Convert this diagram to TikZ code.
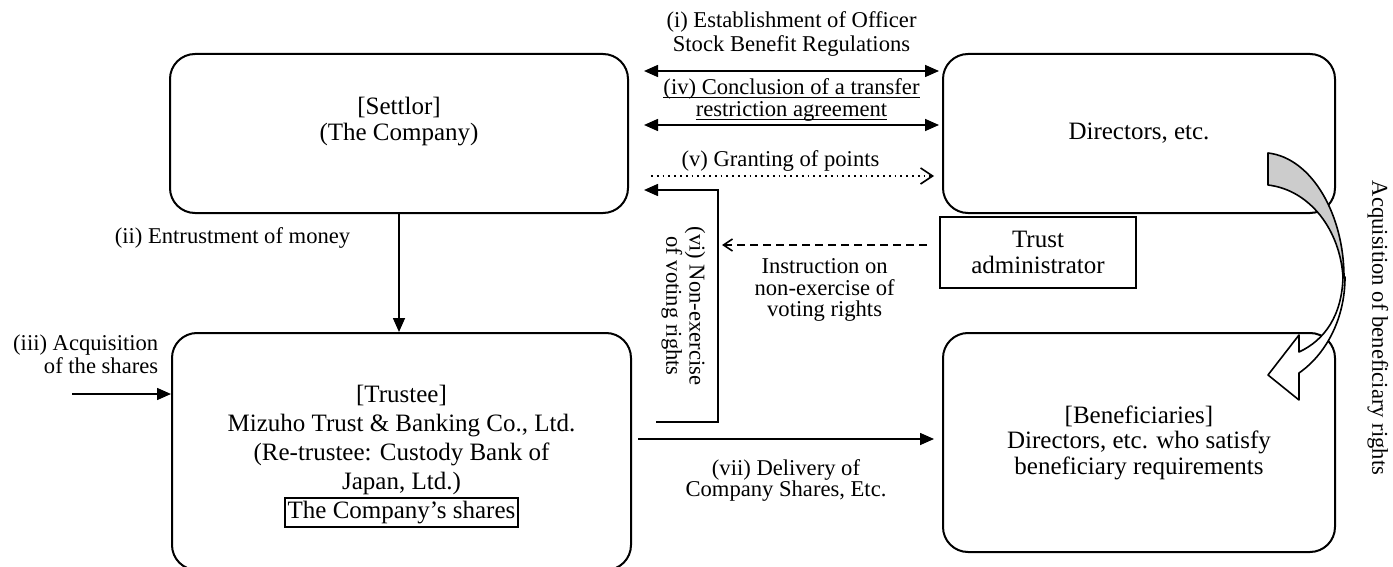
\documentclass[tikz,border=0pt]{standalone}
\usepackage{fontspec}
\setmainfont{Liberation Serif}
\usetikzlibrary{positioning,arrows.meta,calc}

\newcommand{\undl}[1]{\underline{\smash{#1}}}

\begin{document}
\begin{tikzpicture}[
  x=0.5pt, y=-0.5pt,
  font=\fontsize{12.5}{12.8}\selectfont,
  >={Triangle[length=7pt,width=6pt]},
  box/.style={draw,line width=1pt,rounded corners=12.5pt,inner sep=0pt},
  txt/.style={align=center,inner sep=1pt},
  lbl/.style={align=center,inner sep=2pt,font=\fontsize{11.3}{11.6}\selectfont},
  flow/.style={->,line width=0.8pt},
  both/.style={<->,line width=0.8pt},
  grant/.style={-{Straight Barb[length=6pt,width=8pt,line width=0.8pt]},dotted,line width=0.9pt},
  instr/.style={-{Straight Barb[length=4.5pt,width=6pt,line width=0.8pt]},dash pattern=on 4pt off 2.5pt,line width=0.7pt},
  shr/.style={draw,line width=0.9pt,inner sep=1.5pt},
  ribbon/.style={draw=black,line width=0.8pt,line join=round},
]
\useasboundingbox (0,0) rectangle (1393,567);

% ===== boxes =====
\node[box,minimum width=229pt,minimum height=79.5pt] (settlor) at (399,133.5) {};
\node[txt] (settlorT) at ($(settlor.center)+(0,-12)$) {[Settlor]\\(The Company)};

\node[box,minimum width=196pt,minimum height=79.5pt] (directors) at (1139,133.5) {Directors, etc.};

\node[box,minimum width=229.5pt,minimum height=118.5pt] (trustee) at (401.5,451.5) {};
\node[txt,font=\fontsize{12.5}{14.5}\selectfont] (trusteeT) at (401.5,440) {[Trustee]\\Mizuho Trust \& Banking Co., Ltd.\\(Re-trustee: Custody Bank of\\Japan, Ltd.)};
\node[shr,below=0pt of trusteeT] (shares) {The Company's shares};

\node[box,minimum width=196pt,minimum height=109.5pt,txt] (benef) at (1139,442.5)
  {[Beneficiaries]\\Directors, etc. who satisfy\\beneficiary requirements};

\node[draw,line width=0.9pt,minimum width=98pt,minimum height=35.5pt,txt] (admin) at (1038,252.5) {Trust\\administrator};

% ===== arrows =====
\draw[both] ($(settlor.east)+(15,-62.5)$) -- node[lbl,above=5pt,font=\fontsize{11.3}{12}\selectfont]{(i) Establishment of Officer\\Stock Benefit Regulations} ($(directors.west)+(-3,-62.5)$);
\draw[both] ($(settlor.east)+(15,-8.5)$) -- node[lbl,above=0pt,font=\fontsize{11.3}{11}\selectfont]{\undl{(iv) Conclusion of a transfer}\\\undl{restriction agreement}} ($(directors.west)+(-3,-8.5)$);
\draw[grant] ($(settlor.east)+(22,42.5)$) -- node[lbl,above=0pt,xshift=-6pt]{(v) Granting of points} ($(directors.west)+(-8,42.5)$);

\draw[flow] (settlor.south) -- node[lbl,pos=0.2,left=22pt]{(ii) Entrustment of money} (settlor.south |- trustee.north);

\coordinate (acqS) at (72,394);
\draw[flow] (acqS) -- (acqS -| trustee.west) node[lbl,pos=1,above left=7.5pt and 4pt,align=right]{(iii) Acquisition\\of the shares};

\draw[flow] ($(trustee.east)+(24,-29.5)$) -- ++(62,0) |- node[lbl,pos=0.25,rotate=-90,anchor=north,inner sep=6pt]{(vi) Non-exercise\\of voting rights} ($(settlor.east)+(15,56.5)$);

\draw[instr] ($(admin.west)+(-12,-7.5)$) -- node[lbl,below=4.5pt,font=\fontsize{11.3}{10.8}\selectfont]{Instruction on\\non-exercise of\\voting rights} ++(-205,0);

\draw[flow] ($(trustee.east)+(6,-12.5)$) -- node[lbl,below=8pt,font=\fontsize{11.3}{10.5}\selectfont]{(vii) Delivery of\\Company Shares, Etc.} ($(benef.west)+(-8,-3.5)$);

% ===== acquisition of beneficiary rights =====
\filldraw[fill=black!20,ribbon] (1268,153) .. controls (1312,158) and (1344,215) .. (1344,277)
  -- (1343,277) .. controls (1340,230) and (1310,190) .. (1268,185) -- cycle;
\filldraw[fill=white,ribbon] (1343,277) .. controls (1342,315) and (1325,340) .. (1299,352)
  -- (1299,335) -- (1268,375) -- (1299,400) -- (1299,373)
  .. controls (1325,355) and (1345,320) .. (1345,277) -- cycle;
\node[lbl,rotate=-90] (acqL) at (1378,328) {Acquisition of beneficiary rights};
\end{tikzpicture}
\end{document}
